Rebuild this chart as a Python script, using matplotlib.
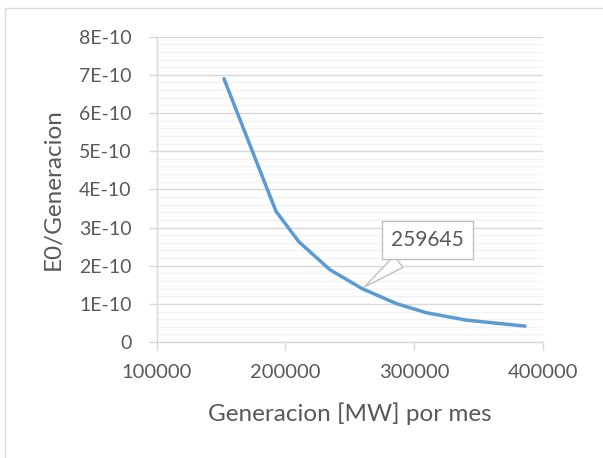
import matplotlib.pyplot as plt
from matplotlib.ticker import MultipleLocator, FuncFormatter
from matplotlib.patches import Rectangle

# datos
generacion = [152200, 192600, 210400, 234500, 259645, 286200, 309500, 340600, 386300]
e0_gen = [6.90e-10, 3.43e-10, 2.63e-10, 1.90e-10, 1.40e-10, 1.01e-10, 0.77e-10, 0.576e-10, 0.42e-10]
etiqueta_x = 259645
etiqueta_y = 1.40e-10

plt.rcParams['font.family'] = ['Lato', 'DejaVu Sans']
texto = '#595959'

fig = plt.figure(figsize=(6.03, 4.58), dpi=100)
ax = fig.add_axes([0.260, 0.253, 0.640, 0.667])

ax.plot(generacion, e0_gen, color='#5B9BD5', linewidth=2.5, solid_capstyle='round', zorder=3)

ax.set_xlim(100000, 400000)
ax.set_ylim(0, 8e-10)
ax.xaxis.set_major_locator(MultipleLocator(100000))
ax.yaxis.set_major_locator(MultipleLocator(1e-10))
ax.yaxis.set_minor_locator(MultipleLocator(0.2e-10))

def fmt_y(v, pos):
    n = int(round(v * 1e10))
    return '0' if n == 0 else f'{n}E-10'

ax.yaxis.set_major_formatter(FuncFormatter(fmt_y))
ax.xaxis.set_major_formatter(FuncFormatter(lambda v, p: f'{int(v)}'))
ax.yaxis.get_offset_text().set_visible(False)
ax.xaxis.get_offset_text().set_visible(False)

ax.grid(axis='y', which='major', color='#D9D9D9', linewidth=1.0, zorder=0)
ax.grid(axis='y', which='minor', color='#F2F2F2', linewidth=1.0, zorder=0)
ax.set_axisbelow(True)

for s in ['top', 'right']:
    ax.spines[s].set_visible(False)
for s in ['left', 'bottom']:
    ax.spines[s].set_color('#D9D9D9')
    ax.spines[s].set_linewidth(1.0)

ax.tick_params(axis='both', which='major', colors='#D9D9D9', labelcolor=texto,
               labelsize=14, length=6, width=1.0, direction='out')
ax.tick_params(axis='x', which='major', labelsize=14.5, pad=10)
ax.tick_params(axis='y', which='major', pad=12)
ax.tick_params(axis='y', which='minor', length=0)

ax.set_xlabel('Generacion [MW] por mes', fontsize=17.5, color=texto, labelpad=15)
ax.set_ylabel('E0/Generacion', fontsize=17.5, color=texto, labelpad=11)

ax.annotate(f'{etiqueta_x}', xy=(etiqueta_x, etiqueta_y), xytext=(47, 35),
            textcoords='offset points', fontsize=15, color=texto,
            ha='center', va='center',
            bbox=dict(boxstyle='square,pad=0.45', fc='white', ec='#BFBFBF', lw=1),
            arrowprops=dict(arrowstyle='wedge,tail_width=0.7,shrink_factor=0.5',
                            fc='white', ec='#BFBFBF', lw=1),
            zorder=5)

# borde del grafico
fig.patches.append(Rectangle((0.0083, -0.5), 1.5, 1.4825, transform=fig.transFigure,
                             fill=False, ec='#D9D9D9', lw=1.0))

fig.savefig('out.png', dpi=100)
